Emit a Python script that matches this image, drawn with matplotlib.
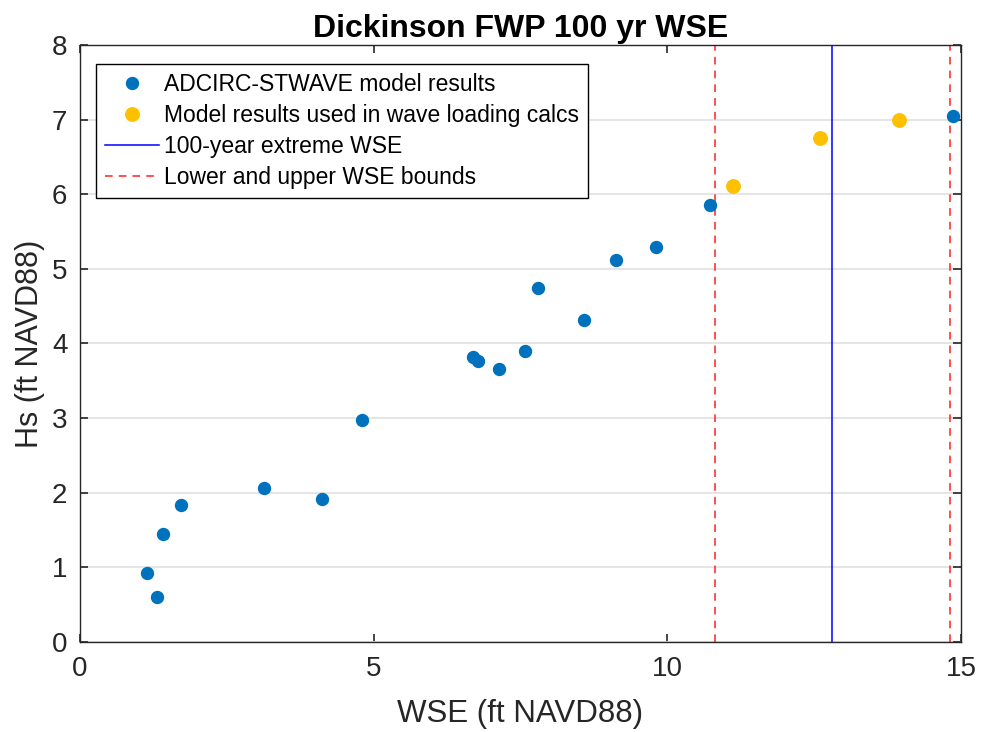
import matplotlib.pyplot as plt

plt.rcParams['font.family'] = ['Liberation Sans', 'DejaVu Sans']

# ADCIRC-STWAVE model results (blue)
wse_model = [1.14, 1.32, 1.41, 1.72, 3.14, 4.12, 4.80, 6.70, 6.77, 7.13, 7.57,
             7.80, 8.58, 9.12, 9.80, 10.73, 14.86]
hs_model = [0.93, 0.60, 1.45, 1.83, 2.06, 1.91, 2.97, 3.82, 3.77, 3.66, 3.90,
            4.74, 4.31, 5.12, 5.29, 5.85, 7.05]

# results used in wave loading calcs (yellow)
wse_used = [11.11, 12.60, 13.94]
hs_used = [6.11, 6.75, 6.99]

wse_100yr = 12.81
wse_bounds = [10.81, 14.82]

fig = plt.figure(figsize=(9.81, 7.32), dpi=100)
ax = fig.add_axes([0.0815, 0.123, 0.8981, 0.8155])

ax.plot(wse_model, hs_model, 'o', color='#0072BD', markersize=8.6,
        label='ADCIRC-STWAVE model results', zorder=3)
ax.plot(wse_used, hs_used, 'o', color='#FFC000', markersize=9.7,
        label='Model results used in wave loading calcs', zorder=3)
ax.axvline(wse_100yr, color='blue', linewidth=1.1, label='100-year extreme WSE', zorder=2)
for i, b in enumerate(wse_bounds):
    ax.axvline(b, color='#FF2020', linestyle=(0, (5, 4)), linewidth=1.1,
               label='Lower and upper WSE bounds' if i == 0 else None, zorder=2)

ax.set_xlim(0, 15)
ax.set_ylim(0, 8)
ax.set_xticks([0, 5, 10, 15])
ax.set_yticks(range(0, 9))
ax.yaxis.grid(True, color='#e3e3e3', linewidth=1.3)
ax.set_axisbelow(True)
ax.tick_params(direction='in', top=True, right=True, length=6, width=1.2,
               colors='#262626', labelsize=20)
ax.tick_params(axis='x', pad=10)
ax.tick_params(axis='y', pad=9)
for s in ax.spines.values():
    s.set_color('#262626')
    s.set_linewidth(1.0)

ax.set_title('Dickinson FWP 100 yr WSE', fontsize=23, fontweight='bold', pad=6)
ax.set_xlabel('WSE (ft NAVD88)', fontsize=22.5, color='#262626', labelpad=12)
ax.set_ylabel('Hs (ft NAVD88)', fontsize=22, color='#262626', labelpad=5)

leg = ax.legend(loc='upper left', bbox_to_anchor=(0.018, 0.968), fontsize=16.5,
                frameon=True, fancybox=False, edgecolor='black', framealpha=1,
                handlelength=2.36, handletextpad=0.22, borderpad=0.4, labelspacing=0.34,
                borderaxespad=0)
leg.get_frame().set_linewidth(1.0)

plt.savefig('out.png', dpi=100)
